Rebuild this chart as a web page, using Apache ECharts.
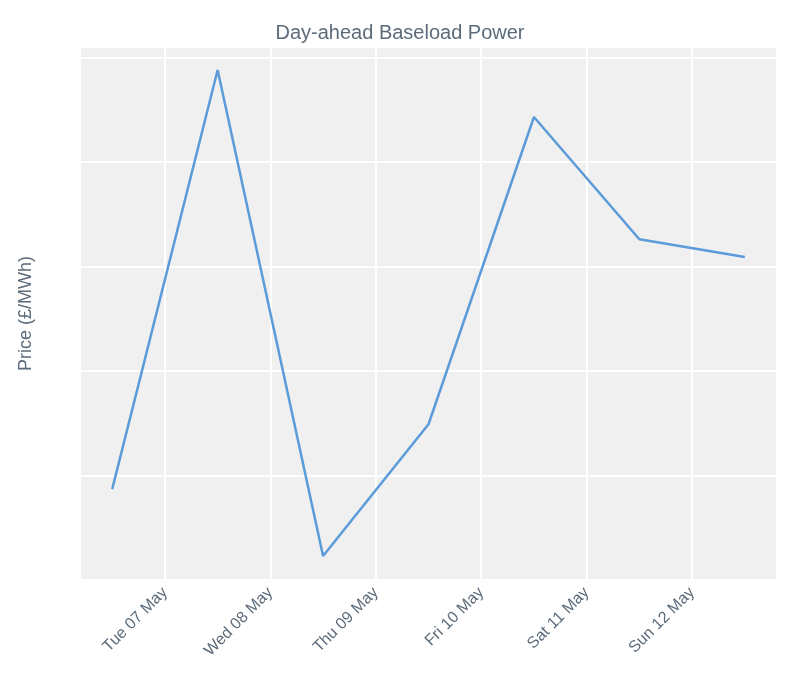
<!DOCTYPE html>
<html>
<head>
<meta charset="utf-8">
<script src="https://cdn.jsdelivr.net/npm/echarts@6/dist/echarts.min.js"></script>
<style>html,body{margin:0;background:#fff}#chart{width:800px;height:700px}</style>
</head>
<body>
<div id="chart"></div>
<script>
// day-ahead baseload prices, one point per day at noon
var days = [6, 7, 8, 9, 10, 11, 12];
var prices = [42.59, 46.60, 41.95, 43.21, 46.15, 44.98, 44.81];
var dayNames = ['Sun', 'Mon', 'Tue', 'Wed', 'Thu', 'Fri', 'Sat'];

var points = days.map(function (d, i) {
    return [new Date(2019, 4, d, 12).getTime(), prices[i]];
});

var chart = echarts.init(document.getElementById('chart'));
chart.setOption({
    animation: false,
    backgroundColor: '#fff',
    title: {
        text: 'Day-ahead Baseload Power', left: 'center', top: 18,
        textStyle: { fontFamily: 'Arial, Liberation Sans', fontSize: 20, fontWeight: 'normal', color: '#5c6b7a' }
    },
    grid: { left: 80, right: 23, top: 47, bottom: 120, show: true, backgroundColor: '#f0f0f0', borderWidth: 0 },
    xAxis: {
        type: 'time',
        min: new Date(2019, 4, 6, 4, 40).getTime(),
        max: new Date(2019, 4, 12, 19, 20).getTime(),
        interval: 86400000,
        axisLine: { show: false },
        axisTick: { show: false },
        splitLine: { show: true, lineStyle: { color: '#fff', width: 2 } },
        axisLabel: {
            rotate: 45, color: '#5c6b7a', fontSize: 16, fontFamily: 'Arial, Liberation Sans', margin: 10,
            formatter: function (v) {
                var d = new Date(v);
                if (d.getHours() !== 0 || d.getDate() < 7) return '';
                return dayNames[d.getDay()] + ' ' + String(d.getDate()).padStart(2, '0') + ' May';
            }
        }
    },
    yAxis: {
        type: 'value',
        min: 41.72, max: 46.82,
        name: 'Price (£/MWh)', nameLocation: 'middle', nameGap: 45,
        nameTextStyle: { color: '#5c6b7a', fontSize: 18, fontFamily: 'Arial, Liberation Sans' },
        axisLine: { show: false },
        axisTick: { show: false },
        splitLine: { show: true, lineStyle: { color: '#fff', width: 2 } },
        axisLabel: {
            color: '#5c6b7a', fontSize: 16, fontFamily: 'Arial, Liberation Sans',
            formatter: function (v) { return Number.isInteger(v) ? String(v) : ''; }
        },
        interval: 1
    },
    series: [{
        type: 'line', data: points, showSymbol: false,
        lineStyle: { color: '#5b9bd9', width: 2.5 }
    }]
});
</script>
</body>
</html>
